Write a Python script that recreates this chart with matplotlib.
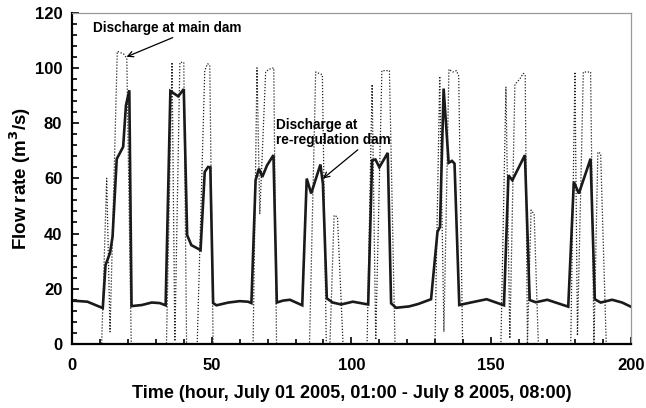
import numpy as np
import matplotlib.pyplot as plt
from matplotlib.ticker import MultipleLocator

plt.rcParams['font.family'] = ['Liberation Sans', 'DejaVu Sans']
plt.rcParams['font.weight'] = 'bold'

# Discharge at re-regulation dam (hour, m3/s)
rereg_t = [0, 5.5, 11, 12, 13.6, 14.5, 16, 18.3, 19.3, 20.5, 21.3, 25, 28.5, 31.4, 33.5,
           35.2, 38, 40, 41.2, 42.7, 46, 47.5, 48.7, 49.5, 50.5, 51.7, 56, 60, 63, 64.2,
           65.7, 66.9, 68.1, 69.8, 72.1, 73.3, 75.5, 78, 82.4, 84, 85.6, 88.9, 89.8, 91.2,
           93.3, 96.3, 100.5, 106, 107.4, 108.6, 110, 113, 114.2, 116, 120.7, 124, 128.5,
           130.8, 131.7, 133, 134.8, 136, 136.9, 138.6, 142.7, 148.4, 154.6, 156.2, 157.6,
           162.1, 163.8, 166, 170.1, 177.6, 179.6, 181.4, 185.6, 187.1, 189.2, 193.3,
           196.9, 200]
rereg_q = [15.7, 15.3, 13.0, 28.6, 33, 38.8, 67, 71.4, 86.4, 91.9, 13.7, 14.1, 15, 14.8, 14,
           91.6, 89.7, 92.3, 39.4, 35.8, 34, 62.3, 64.1, 64, 14.8, 14, 15, 15.5, 15.3, 14.8,
           59.3, 63.5, 60.5, 64.7, 68.4, 15, 15.7, 16, 14, 59.9, 54.5, 65, 58, 16.5,
           15, 14.3, 15.3, 14.3, 66.5, 66.8, 64, 69.2, 14.7, 13.1, 13.6, 14.5, 16.2,
           40.6, 42.4, 92.5, 65.6, 66.3, 65.3, 14.1, 15, 16.2, 14, 61.1, 59.3,
           68.4, 15.9, 15.1, 16, 13.5, 58.7, 54.5, 67.1, 16.2, 15, 16,
           15, 13.5]

# Discharge at main dam (hour, m3/s)
main_t = [0, 10.6, 12.4, 13.6, 16.2, 18.5, 19.6, 21.2,
          33.8, 35.8, 36.8, 38.6, 40.0, 41.0,
          44.8, 47.5, 48.5, 49.3, 50.5,
          64.8, 66.2, 67.2, 69.3, 70.5, 72.2, 73.2,
          85.0, 87.2, 89.6, 91.0, 92.3, 93.8, 95.0, 97.0,
          105.6, 107.4, 108.7, 110.9, 113.6, 115.6,
          129.9, 131.6, 133.1, 134.9, 136.3, 137.6, 138.4, 139.8,
          153.5, 155.3, 156.7, 158.5, 160.3, 161.5, 162.2, 163.0, 164.3, 165.4, 166.9,
          178.5, 180.0, 180.9, 183.0, 185.6, 186.8, 188.2, 189.2, 191.2, 200]
main_q = [0, 0, 60, 4.4, 106, 105, 103.5, 0,
          0, 102, 1, 102, 102, 0,
          0, 99, 101.5, 101, 0,
          0, 100, 47, 98.5, 99.5, 100, 0,
          0, 98.5, 97.5, 0, 0, 46.6, 46, 0,
          0, 94, 1.5, 99, 99, 0,
          0, 97, 4.4, 99.5, 98.5, 99, 97, 0,
          0, 93, 2, 94, 96, 98, 97.5, 0, 48.5, 47, 0,
          0, 98.5, 3, 98.5, 98.5, 0, 69.5, 69, 0, 0]

fig = plt.figure(figsize=(6.46, 4.08), dpi=100)
ax = fig.add_axes([0.1115, 0.157, 0.865, 0.812])

ax.plot(main_t, main_q, color='#222222', lw=0.9, linestyle=(0, (1, 1.4)))
ax.plot(rereg_t, rereg_q, color='#1a1a1a', lw=1.9, solid_joinstyle='miter')

ax.set_xlim(0, 200)
ax.set_ylim(0, 120)
ax.xaxis.set_major_locator(MultipleLocator(50))
ax.xaxis.set_minor_locator(MultipleLocator(10))
ax.yaxis.set_major_locator(MultipleLocator(20))
ax.yaxis.set_minor_locator(MultipleLocator(4))
ax.tick_params(which='both', direction='in', width=1.2, labelsize=12)
ax.tick_params(axis='x', pad=10)
ax.tick_params(axis='y', pad=7)
ax.tick_params(which='major', length=5)
ax.tick_params(which='minor', length=3.5)
for lab in ax.get_xticklabels() + ax.get_yticklabels():
    lab.set_fontweight('bold')

for side in ['left', 'bottom']:
    ax.spines[side].set_linewidth(1.6)
    ax.spines[side].set_color('black')
for side in ['top', 'right']:
    ax.spines[side].set_linewidth(0.9)
    ax.spines[side].set_color('#999999')

ax.set_xlabel('Time (hour, July 01 2005, 01:00 - July 8 2005, 08:00)',
              fontsize=13, fontweight='bold', labelpad=9)
ax.set_ylabel('Flow rate (m$^3$/s)', fontsize=13.5, fontweight='bold', labelpad=1)

ax.annotate('Discharge at main dam', xy=(19.5, 104), xytext=(7.6, 114.5),
            fontsize=9.8, fontweight='bold', va='center', ha='left',
            arrowprops=dict(arrowstyle='->', color='black', lw=0.9,
                            shrinkA=0, shrinkB=0,
                            relpos=(0.58, 0)))
ax.annotate('Discharge at\nre-regulation dam', xy=(89.8, 59.9), xytext=(73.1, 76.5),
            fontsize=9.8, fontweight='bold', va='center', ha='left',
            linespacing=1.05,
            arrowprops=dict(arrowstyle='->', color='black', lw=0.9,
                            shrinkA=0, shrinkB=0,
                            relpos=(0.74, 0)))

fig.savefig('out.png', dpi=100)
